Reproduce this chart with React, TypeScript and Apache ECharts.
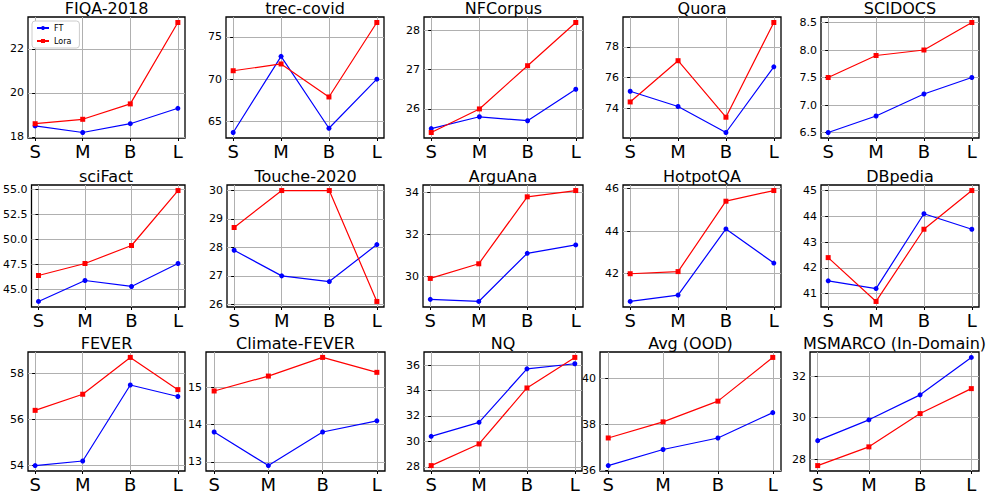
import React, { useEffect, useRef } from 'react';
import * as echarts from 'echarts';

const categories = ['S', 'M', 'B', 'L'];

const titles = [
  'FIQA-2018', 'trec-covid', 'NFCorpus', 'Quora', 'SCIDOCS',
  'sciFact', 'Touche-2020', 'ArguAna', 'HotpotQA', 'DBpedia',
  'FEVER', 'Climate-FEVER', 'NQ', 'Avg (OOD)', 'MSMARCO (In-Domain)',
];

const ftValues = [
  [18.5, 18.2, 18.6, 19.3],
  [63.7, 72.7, 64.2, 70.0],
  [25.5, 25.8, 25.7, 26.5],
  [75.1, 74.1, 72.4, 76.7],
  [6.5, 6.8, 7.2, 7.5],
  [43.8, 45.9, 45.3, 47.6],
  [27.9, 27.0, 26.8, 28.1],
  [28.9, 28.8, 31.1, 31.5],
  [40.7, 41.0, 44.1, 42.5],
  [41.5, 41.2, 44.1, 43.5],
  [54.0, 54.2, 57.5, 57.0],
  [13.8, 12.9, 13.8, 14.1],
  [30.4, 31.5, 35.7, 36.1],
  [36.2, 36.9, 37.4, 38.5],
  [28.9, 29.9, 31.1, 32.9],
];

const loraValues = [
  [18.6, 18.8, 19.5, 23.2],
  [71.0, 71.8, 67.9, 76.7],
  [25.4, 26.0, 27.1, 28.2],
  [74.4, 77.1, 73.4, 79.6],
  [7.5, 7.9, 8.0, 8.5],
  [46.4, 47.6, 49.4, 54.9],
  [28.7, 30.0, 30.0, 26.1],
  [29.9, 30.6, 33.8, 34.1],
  [42.0, 42.1, 45.4, 45.9],
  [42.4, 40.7, 43.5, 45.0],
  [56.4, 57.1, 58.7, 57.3],
  [14.9, 15.3, 15.8, 15.4],
  [28.1, 29.8, 34.2, 36.6],
  [37.4, 38.1, 39.0, 40.9],
  [27.7, 28.6, 30.2, 31.4],
];

const yTicks = [
  [18, 20, 22],
  [65, 70, 75],
  [26, 27, 28],
  [74, 76, 78],
  [6.5, 7.0, 7.5, 8.0, 8.5],
  [45.0, 47.5, 50.0, 52.5, 55.0],
  [26, 27, 28, 29, 30],
  [30, 32, 34],
  [42, 44, 46],
  [41, 42, 43, 44, 45],
  [54, 56, 58],
  [13, 14, 15],
  [28, 30, 32, 34, 36],
  [36, 38, 40],
  [28, 30, 32],
];

// layout: [left, top, width, height] of each plot box
const layout: number[][] = [
  [28, 17, 157, 121], [226, 17, 158, 121], [424, 17, 159, 121], [623, 17, 158, 121], [821, 17, 158, 121],
  [27, 185, 158, 122], [227, 185, 157, 122], [423, 185, 160, 122], [623, 185, 158, 122], [821, 185, 158, 122],
  [28, 352, 157, 121], [206, 352, 179, 121], [424, 352, 158, 121], [600, 352, 181, 121], [810, 352, 169, 121],
];

const FONT = 'DejaVu Sans';

export default function App() {
  const ref = useRef<HTMLDivElement>(null);
  useEffect(() => {
    if (!ref.current) return;
    const chart = echarts.init(ref.current, undefined, { renderer: 'svg' });
    const xIdx = categories.map((_, k) => k);
    const grid: any[] = [];
    const xAxis: any[] = [];
    const yAxis: any[] = [];
    const series: any[] = [];
    const title: any[] = [];
    titles.forEach((t, i) => {
      const [l, tp, w, h] = layout[i];
      grid.push({ left: l, top: tp, width: w, height: h, show: true, borderColor: '#000', borderWidth: 1.3, backgroundColor: 'transparent' });
      title.push({
        text: t, left: l + w / 2, top: Math.max(0, tp - 17), textAlign: 'center',
        textStyle: { fontFamily: FONT, fontSize: 16, fontWeight: 'normal', color: '#000' },
        padding: 0,
      });
      const all = ftValues[i].concat(loraValues[i]);
      const lo = Math.min(...all);
      const hi = Math.max(...all);
      const pad = (hi - lo) * 0.05;
      const dec = yTicks[i].some((v) => Math.abs(v - Math.round(v)) > 1e-9) ? 1 : 0;
      xAxis.push({
        type: 'value', gridIndex: i, min: -0.15, max: 3.15,
        axisLine: { show: false },
        axisTick: { show: true, customValues: xIdx, length: 3, lineStyle: { color: '#000', width: 1 } },
        axisLabel: {
          customValues: xIdx, formatter: (v: number) => categories[Math.round(v)],
          fontFamily: FONT, fontSize: 18, color: '#000', margin: 4,
        },
        splitLine: { show: true, lineStyle: { color: '#b0b0b0', width: 1 } },
      });
      yAxis.push({
        type: 'value', gridIndex: i, min: lo - pad, max: hi + pad,
        axisLine: { show: false },
        axisTick: { show: true, customValues: yTicks[i], length: 3, lineStyle: { color: '#000', width: 1 } },
        axisLabel: {
          customValues: yTicks[i], formatter: (v: number) => v.toFixed(dec),
          fontFamily: FONT, fontSize: 11, color: '#000', margin: 4,
        },
        splitLine: { show: true, lineStyle: { color: '#b0b0b0', width: 1 } },
      });
      series.push({
        type: 'line', name: 'FT', xAxisIndex: i, yAxisIndex: i,
        data: ftValues[i].map((v, k) => [xIdx[k], v]),
        symbol: 'circle', symbolSize: 5, showSymbol: true,
        color: '#0000ff',
        lineStyle: { color: '#0000ff', width: 1.2 },
        itemStyle: { color: '#0000ff' },
      });
      series.push({
        type: 'line', name: 'Lora', xAxisIndex: i, yAxisIndex: i,
        data: loraValues[i].map((v, k) => [xIdx[k], v]),
        symbol: 'rect', symbolSize: 5, showSymbol: true,
        color: '#ff0000',
        lineStyle: { color: '#ff0000', width: 1.2 },
        itemStyle: { color: '#ff0000' },
      });
    });
    chart.setOption({
      animation: false,
      backgroundColor: '#fff',
      title,
      legend: {
        data: ['FT', 'Lora'], left: 32, top: 21, orient: 'vertical',
        itemWidth: 12, itemHeight: 5, itemGap: 5, selectedMode: false,
        textStyle: { fontFamily: FONT, fontSize: 8, color: '#000' },
        borderColor: '#cccccc', borderWidth: 1, borderRadius: 3,
        padding: [3, 8, 3, 4], backgroundColor: '#fff',
      },
      grid, xAxis, yAxis, series,
    });
    return () => chart.dispose();
  }, []);
  return (
    <div
      ref={ref}
      style={{ position: 'absolute', left: 0, top: 0, width: 997, height: 493, background: '#fff' }}
    />
  );
}
